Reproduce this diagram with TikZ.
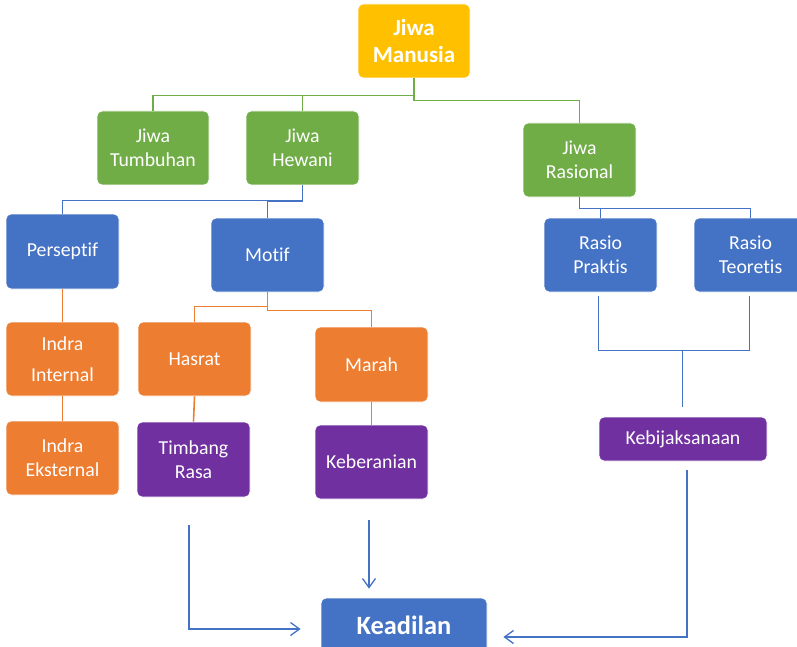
\documentclass[tikz,border=0pt]{standalone}
\usepackage{fontspec}
\setmainfont{Carlito}[Ligatures=NoCommon]
\usetikzlibrary{calc,arrows.meta}
\definecolor{cgreen}{HTML}{70AD47}
\definecolor{cblue}{HTML}{4472C4}
\definecolor{corange}{HTML}{ED7D31}
\definecolor{cpurple}{HTML}{7030A0}
\definecolor{cyellow}{HTML}{FFC000}
\tikzset{
  box/.style={draw=white, line width=0.8pt, rounded corners=5pt, text=white, align=center,
    inner sep=0pt, minimum width=113pt, minimum height=74pt,
    font=\fontsize{19.8}{24}\selectfont},
  gbox/.style={box, fill=cgreen},
  bbox/.style={box, fill=cblue},
  obox/.style={box, fill=corange},
  pbox/.style={box, fill=cpurple},
  gline/.style={draw=cgreen, line width=1.6pt},
  bline/.style={draw=cblue, line width=1.6pt},
  oline/.style={draw=corange, line width=1.6pt},
  tline/.style={draw=cblue, line width=0.9pt},
  arr/.style={draw=cblue, line width=1.3pt, -{Straight Barb[length=9pt,width=13pt,line width=1.3pt]}},
}
\begin{document}
\begin{tikzpicture}[x=1pt,y=-1pt]
\useasboundingbox (0,0) rectangle (797,647);
\clip (0,0) rectangle (797,647);
% nodes
\node[box, fill=cyellow, minimum width=112pt, font=\fontsize{23}{27}\selectfont\bfseries] (man) at (414,41) {Jiwa\\Manusia};
\node[gbox, minimum width=112pt] (tum) at (153,148) {Jiwa\\Tumbuhan};
\node[gbox] (hew) at (302.5,148) {Jiwa\\Hewani};
\node[gbox] (ras) at (579.5,160) {Jiwa\\Rasional};
\node[bbox, minimum height=75pt] (per) at (62.5,251.5) {Perseptif};
\node[bbox] (mot) at (267.5,255) {Motif};
\node[bbox] (pra) at (600.5,255) {Rasio\\Praktis};
\node[bbox] (teo) at (750.5,255) {Rasio\\Teoretis};
\node[obox, font=\fontsize{19.8}{31}\selectfont] (int) at (62.5,359) {Indra\\Internal};
\node[obox] (hsr) at (194.5,359) {Hasrat};
\node[obox, minimum height=75pt] (mar) at (371.5,364.5) {Marah};
\node[obox] (eks) at (62.5,458) {Indra\\Eksternal};
\node[pbox, minimum height=75pt] (tim) at (193.5,459.5) {Timbang\\Rasa};
\node[pbox] (keb) at (371.5,462) {Keberanian};
\node[pbox, minimum width=168pt, minimum height=44pt] (bij) at (683,439) {Kebijaksanaan};
\node[bbox, minimum width=166pt, minimum height=54pt, font=\fontsize{26.4}{30}\selectfont\bfseries] (kea) at (404,625) {Keadilan};
% green connectors
\draw[gline] (man.south) -- ++(0,17) -| (tum.north);
\draw[gline] (man.south) ++(0,17) -| (hew.north);
\draw[gline] (man.south) -- ++(0,22) -| (ras.north);
% blue connectors
\draw[bline] (hew.south) -- ++(0,15) -| (per.north);
\draw[bline] (hew.south) ++(0,16) -| (mot.north);
\draw[bline] (ras.south) -- ++(0,11) -| (pra.north);
\draw[bline] (ras.south) ++(0,11) -| (teo.north);
% orange connectors
\draw[oline] (per.south) -- (int.north);
\draw[oline] (int.south) -- (eks.north);
\draw[oline] (mot.south) -- ++(0,14) -| (hsr.north);
\draw[oline] (mot.south) ++(0,14) -- ++(0,4) -| (mar.north);
\draw[oline] (hsr.south) -- (tim.north);
\draw[oline] (mar.south) -- (keb.north);
% thin blue to Kebijaksanaan
\coordinate (p1) at ($(pra.south)+(-2.5,4)$);
\coordinate (t1) at ($(teo.south)+(-1.5,4)$);
\coordinate (mid) at ($(p1)!0.56!(t1)+(0,54)$);
\coordinate (bt) at ($(bij.north)+(0,-10)$);
\draw[tline] (p1) -- ++(0,54) -| (t1);
\draw[tline] (mid) -- (mid |- bt);
% arrows to Keadilan
\coordinate (a1) at ($(tim.south)+(-4.5,28)$);
\coordinate (a1e) at ($(kea.west)+(-20,4)$);
\draw[arr] (a1) |- (a1e);
\coordinate (a2) at ($(keb.south)+(-2.5,21)$);
\draw[arr, shorten >=9pt] (a2) -- (a2 |- kea.north);
\coordinate (a3) at ($(bij.south)+(4,9)$);
\coordinate (a3e) at ($(kea.east)+(16,12)$);
\draw[arr] (a3) |- (a3e);
\end{tikzpicture}
\end{document}
